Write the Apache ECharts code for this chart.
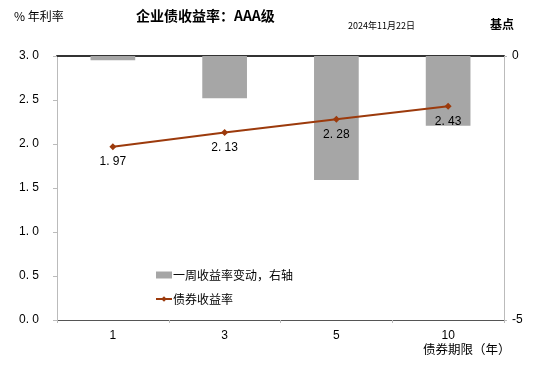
<!DOCTYPE html>
<html><head><meta charset="utf-8">
<script src="https://cdn.jsdelivr.net/npm/echarts@6/dist/echarts.min.js"></script>
<style>html,body{margin:0;padding:0;background:#fff}#c{width:550px;height:374px}</style>
</head><body><div id="c"></div>
<script>
const categories = ['1', '3', '5', '10'];
const weeklyChange = [-0.08, -0.8, -2.35, -1.32];
const yieldRate = [1.97, 2.13, 2.28, 2.43];

const FONT = '"Noto Sans CJK SC", "Noto Sans", sans-serif';
const NUMFONT = '"Liberation Sans", Arial, sans-serif';
const chart = echarts.init(document.getElementById('c'));
chart.setOption({
  animation: false,
  backgroundColor: '#fff',
  textStyle: {fontFamily: FONT},
  grid: {left: 57, right: 46, top: 56, bottom: 54},
  graphic: [
    {type: 'text', left: 14, top: 10, style: {text: '% 年利率', font: '12px ' + FONT, fill: '#000'}},
    {type: 'text', left: 136, top: 9, style: {text: '企业债收益率：AAA级', font: 'bold 14px ' + FONT, fill: '#000'}},
    {type: 'text', left: 348, top: 21, style: {text: '2024年11月22日', font: '9px ' + FONT, fill: '#000'}},
    {type: 'text', left: 490, top: 18, style: {text: '基点', font: 'bold 12px ' + FONT, fill: '#000'}},
    {type: 'text', left: 423, top: 343, style: {text: '债券期限（年）', font: '12.5px ' + FONT, fill: '#000'}}
  ],
  legend: {
    orient: 'vertical', left: 150, top: 264, itemGap: 12,
    itemWidth: 16, itemHeight: 7,
    textStyle: {fontSize: 12, color: '#000', fontFamily: FONT, padding: [0, 0, 0, -4]},
    data: [
      {name: '一周收益率变动，右轴', icon: 'rect'},
      {name: '债券收益率'}
    ]
  },
  xAxis: [{
    type: 'category', data: categories, boundaryGap: true,
    axisLine: {lineStyle: {color: '#555', width: 1}},
    axisTick: {show: true, length: 3, lineStyle: {color: '#bbb'}},
    axisLabel: {color: '#000', fontSize: 12, margin: 10, fontFamily: NUMFONT}
  }, {
    type: 'category', data: categories, position: 'top',
    axisLine: {lineStyle: {color: '#333', width: 2}},
    axisTick: {show: false}, axisLabel: {show: false}
  }],
  yAxis: [{
    type: 'value', min: 0, max: 3, interval: 0.5,
    axisLine: {show: true, lineStyle: {color: '#bbb'}},
    axisTick: {show: true, length: 4, lineStyle: {color: '#bbb'}},
    splitLine: {show: false},
    axisLabel: {color: '#000', fontSize: 12, margin: 18, fontFamily: NUMFONT,
      formatter: v => v.toFixed(1).replace('.', '. ')}
  }, {
    type: 'value', min: -5, max: 0, interval: 5, position: 'right',
    axisLine: {show: true, lineStyle: {color: '#bbb'}},
    axisTick: {show: true, length: 3, lineStyle: {color: '#bbb'}},
    splitLine: {show: false},
    axisLabel: {color: '#000', fontSize: 12, margin: 8, fontFamily: NUMFONT}
  }],
  series: [{
    name: '一周收益率变动，右轴', type: 'bar', yAxisIndex: 1,
    data: weeklyChange, barWidth: '40%',
    itemStyle: {color: '#a6a6a6'}
  }, {
    name: '债券收益率', type: 'line', yAxisIndex: 0,
    data: yieldRate, symbol: 'diamond', symbolSize: 7,
    lineStyle: {color: '#9c3a0c', width: 2}, itemStyle: {color: '#9c3a0c'},
    label: {show: true, position: 'bottom', distance: 6, color: '#000', fontSize: 12,
      fontFamily: NUMFONT, formatter: p => p.value.toFixed(2).replace('.', '. ')},
    z: 5
  }]
});
</script></body></html>
